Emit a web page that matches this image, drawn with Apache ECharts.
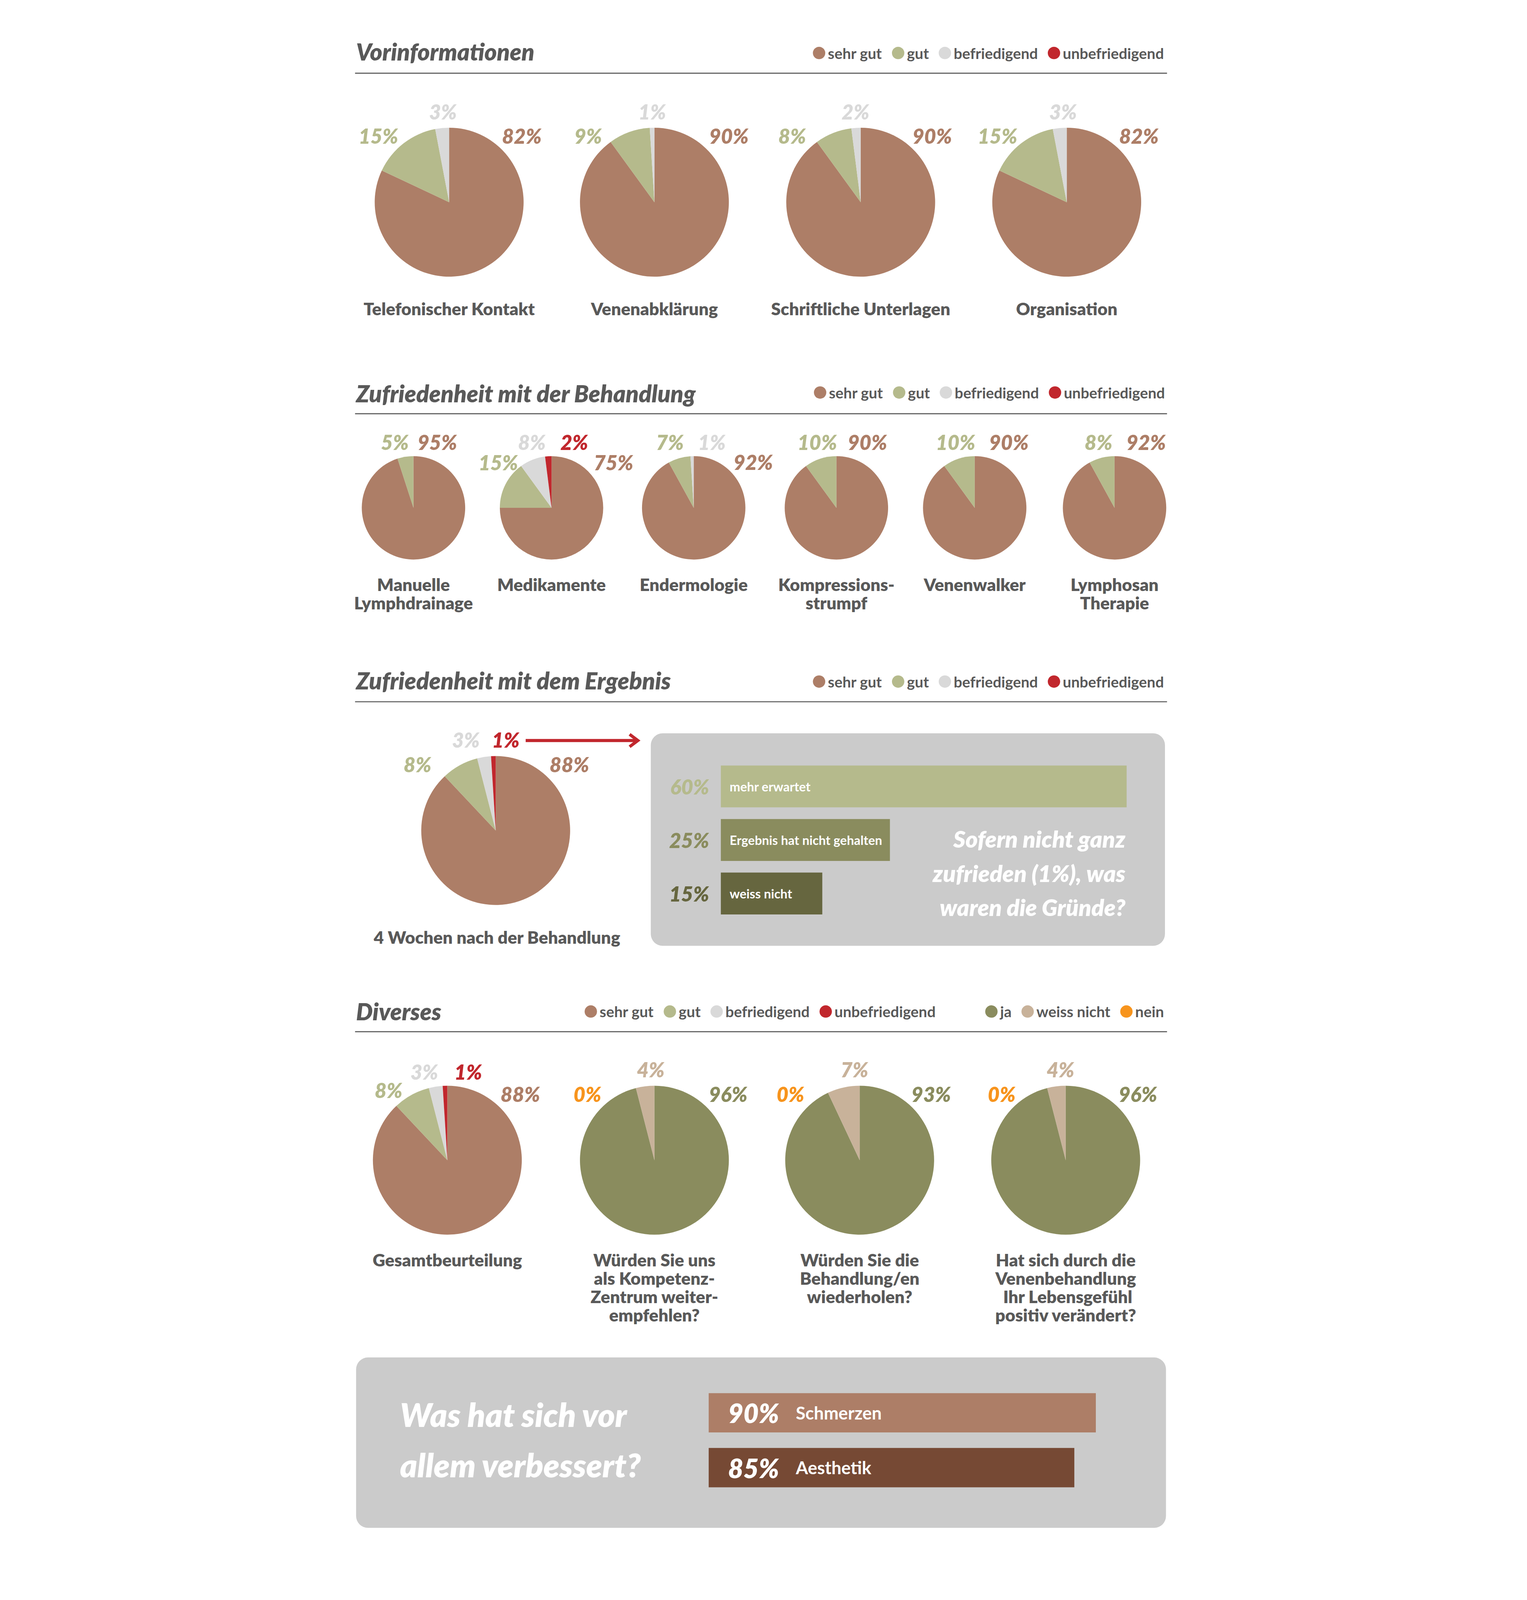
<!DOCTYPE html>
<html><head><meta charset="utf-8">
<script src="https://cdn.jsdelivr.net/npm/echarts/dist/echarts.min.js"></script>
<style>html,body{margin:0;padding:0;background:#fff;overflow:hidden}#c{width:3910px;height:6188px;position:absolute;left:0;top:0}</style>
</head><body><div id="c"></div><script>
// ---------- DATA ----------
const sectionTitles = ['Vorinformationen', 'Zufriedenheit mit der Behandlung', 'Zufriedenheit mit dem Ergebnis', 'Diverses'];
const ratingLabels = ['sehr gut', 'gut', 'befriedigend', 'unbefriedigend'];
const answerLabels = ['ja', 'weiss nicht', 'nein'];

const vorinfoCategories = [['Telefonischer Kontakt'], ['Venenabklärung'], ['Schriftliche Unterlagen'], ['Organisation']];
const vorinfoValues = [[82, 15, 3, 0], [90, 9, 1, 0], [90, 8, 2, 0], [82, 15, 3, 0]];

const behandlungCategories = [['Manuelle', 'Lymphdrainage'], ['Medikamente'], ['Endermologie'], ['Kompressions-', 'strumpf'], ['Venenwalker'], ['Lymphosan', 'Therapie']];
const behandlungValues = [[95, 5, 0, 0], [75, 15, 8, 2], [92, 7, 1, 0], [90, 10, 0, 0], [90, 10, 0, 0], [92, 8, 0, 0]];

const ergebnisCategory = ['4 Wochen nach der Behandlung'];
const ergebnisValues = [88, 8, 3, 1];

const gruendeLabels = ['mehr erwartet', 'Ergebnis hat nicht gehalten', 'weiss nicht'];
const gruendeValues = [60, 25, 15];
const gruendeQuestion = ['Sofern nicht ganz', 'zufrieden (1%), was', 'waren die Gründe?'];

const gesamtCategory = ['Gesamtbeurteilung'];
const gesamtValues = [88, 8, 3, 1];
const fragenCategories = [
  ['Würden Sie uns', 'als Kompetenz-', 'Zentrum weiter-', 'empfehlen?'],
  ['Würden Sie die', 'Behandlung/en', 'wiederholen?'],
  ['Hat sich durch die', 'Venenbehandlung', ' Ihr Lebensgefühl', 'positiv verändert?']
];
const fragenValues = [[96, 4, 0], [93, 7, 0], [96, 4, 0]];

const verbessertLabels = ['Schmerzen', 'Aesthetik'];
const verbessertValues = [90, 85];
const verbessertQuestion = ['Was hat sich vor', 'allem verbessert?'];

// ---------- FIT THE 3910x6188 DESIGN INTO THE ACTUAL WINDOW ----------
const W = 3910, H = 6188;
const fit = Math.min(window.innerWidth / W, window.innerHeight / H, 1);
const host = document.getElementById('c');
host.style.transformOrigin = '0 0';
host.style.transform = 'translate(' + ((window.innerWidth - W * fit) / 2) + 'px,0) scale(' + fit + ')';

// ---------- STYLE / LAYOUT ----------
const FONT = 'Lato';
const GRAY = '#595959';
const ratingColors = ['#AD7E67', '#B5BA8C', '#D9D9D9', '#C1272D'];
const answerColors = ['#8A8C5E', '#C8B29A', '#F7941D'];
const gruendeColors = ['#B5BA8C', '#8A8C5E', '#66663F'];
const verbessertColors = ['#AD7E67', '#764934'];
const BOX = '#CBCBCB';
const R_BIG = 288, R_SMALL = 200;

const s1X = [739, 1533, 2331, 3128], s1Y = 782, s1CapY = 1193;
const s1Off = [
  [[0.976, -0.89], [-0.95, -0.89], [-0.083, -1.22], null],
  [[1.0, -0.89], [-0.89, -0.89], [-0.03, -1.22], null],
  [[0.96, -0.89], [-0.92, -0.89], [-0.07, -1.22], null],
  [[0.97, -0.89], [-0.93, -0.89], [-0.05, -1.22], null]
];
const s2X = [601, 1135, 1685, 2237, 2772, 3313], s2Y = 1964, s2CapY = 2260;
const s2Off = [
  [[0.46, -1.27], [-0.36, -1.27], null, null],
  [[1.2, -0.88], [-1.03, -0.88], [-0.38, -1.27], [0.44, -1.27]],
  [[1.15, -0.89], [-0.46, -1.27], [0.35, -1.27], null],
  [[0.6, -1.27], [-0.37, -1.27], null, null],
  [[0.66, -1.27], [-0.37, -1.27], null, null],
  [[0.61, -1.27], [-0.31, -1.27], null, null]
];
const s3C = [919, 3212], s3CapY = 3624;
const s3Off = [[0.99, -0.89], [-1.05, -0.89], [-0.40, -1.22], [0.135, -1.22]];
const s4X = [732, 1533, 2327, 3124], s4Y = 4487, s4CapY = 4871;
const s4GOff = [[0.98, -0.89], [-0.79, -0.94], [-0.31, -1.19], [0.28, -1.19]];
const s4Off = [
  [[0.99, -0.89], [-0.05, -1.22], [-0.90, -0.89]],
  [[0.96, -0.89], [-0.07, -1.22], [-0.93, -0.89]],
  [[0.97, -0.89], [-0.07, -1.22], [-0.86, -0.89]]
];
const titleY = [200, 1521, 2631, 3911];
const ruleY = [283, 1600, 2714, 3990];

function pieSeries(center, radius, names, values, colors, offsets) {
  return {
    type: 'pie', center: center, radius: radius, startAngle: 90, clockwise: true,
    silent: true, avoidLabelOverlap: false, animation: false,
    itemStyle: { borderWidth: 0 },
    emphasis: { disabled: true, scale: false },
    label: { show: true, position: 'outside', formatter: '{c}%', fontFamily: FONT, fontSize: 79, fontWeight: 800, fontStyle: 'italic' },
    labelLine: { show: false },
    labelLayout: function (p) {
      const o = offsets[p.dataIndex];
      if (!o) return {};
      return { x: center[0] + o[0] * radius, y: center[1] + o[1] * radius, align: 'center', verticalAlign: 'middle' };
    },
    data: names.map((n, i) => ({
      name: n, value: values[i],
      itemStyle: { color: colors[i] },
      label: { show: offsets[i] != null, color: colors[i] }
    }))
  };
}

const series = [];
vorinfoValues.forEach((v, i) => series.push(pieSeries([s1X[i], s1Y], R_BIG, ratingLabels, v, ratingColors, s1Off[i])));
behandlungValues.forEach((v, i) => series.push(pieSeries([s2X[i], s2Y], R_SMALL, ratingLabels, v, ratingColors, s2Off[i])));
series.push(pieSeries(s3C, R_BIG, ratingLabels, ergebnisValues, ratingColors, s3Off));
series.push(pieSeries([s4X[0], s4Y], R_BIG, ratingLabels, gesamtValues, ratingColors, s4GOff));
fragenValues.forEach((v, i) => series.push(pieSeries([s4X[i + 1], s4Y], R_BIG, answerLabels, v, answerColors, s4Off[i])));

series.push({
  type: 'bar', xAxisIndex: 0, yAxisIndex: 0, barWidth: 162, silent: true, animation: false, z: 5,
  data: gruendeValues.map((v, i) => ({ value: v, itemStyle: { color: gruendeColors[i] } })),
  label: { show: true, position: 'insideLeft', distance: 34, formatter: '{b}', color: '#fff', fontFamily: FONT, fontWeight: 'bold', fontSize: 49 }
});
series.push({
  type: 'bar', xAxisIndex: 1, yAxisIndex: 1, barWidth: 152, silent: true, animation: false, z: 5,
  data: verbessertValues.map((v, i) => ({ value: v, itemStyle: { color: verbessertColors[i] } })),
  label: {
    show: true, position: 'insideLeft', distance: 75,
    formatter: p => '{p|' + p.value + '%}{n|' + p.name + '}',
    rich: {
      p: { color: '#fff', fontFamily: FONT, fontWeight: 800, fontStyle: 'italic', fontSize: 102, width: 262 },
      n: { color: '#fff', fontFamily: FONT, fontWeight: 'bold', fontSize: 68 }
    }
  }
});

const gruendeRich = {};
gruendeColors.forEach((c, i) => gruendeRich['p' + i] = { color: c, fontFamily: FONT, fontWeight: 800, fontStyle: 'italic', fontSize: 80 });

const g = [];
function txt(text, x, y, font, fill, align) {
  g.push({ type: 'text', x: x, y: y, z: 100, silent: true,
    style: { text: text, font: font, fill: fill, align: align, textAlign: align, verticalAlign: 'middle', textVerticalAlign: 'middle' } });
}
const titleFont = 'italic 800 91px ' + FONT;
const capFont = '800 67px ' + FONT;
sectionTitles.forEach((t, i) => txt(t, 379, titleY[i], titleFont, GRAY, 'left'));
ruleY.forEach(y => g.push({ type: 'line', z: 1, silent: true, shape: { x1: 375, y1: y, x2: 3516, y2: y }, style: { stroke: GRAY, lineWidth: 4 } }));
vorinfoCategories.forEach((lines, i) => lines.forEach((l, j) => txt(l, s1X[i], s1CapY + j * 71, capFont, GRAY, 'center')));
behandlungCategories.forEach((lines, i) => lines.forEach((l, j) => txt(l, s2X[i], s2CapY + j * 71, capFont, GRAY, 'center')));
txt(ergebnisCategory[0], 924, s3CapY, capFont, GRAY, 'center');
txt(gesamtCategory[0], s4X[0], s4CapY, capFont, GRAY, 'center');
fragenCategories.forEach((lines, i) => lines.forEach((l, j) => txt(l, s4X[i + 1], s4CapY + j * 71, capFont, GRAY, 'center')));
g.push({ type: 'rect', z: 0, silent: true, shape: { x: 1519, y: 2836, width: 1989, height: 822, r: 46 }, style: { fill: BOX } });
g.push({ type: 'rect', z: 0, silent: true, shape: { x: 379, y: 5250, width: 3133, height: 659, r: 46 }, style: { fill: BOX } });
gruendeQuestion.forEach((l, j) => txt(l, 3355, 3244 + j * 132, 'italic 800 90px ' + FONT, '#fff', 'right'));
verbessertQuestion.forEach((l, j) => txt(l, 549, 5471 + j * 194, 'italic 800 126px ' + FONT, '#fff', 'left'));
g.push({ type: 'line', z: 1, silent: true, shape: { x1: 1035, y1: 2864, x2: 1468, y2: 2864 }, style: { stroke: ratingColors[3], lineWidth: 12 } });
g.push({ type: 'polyline', z: 1, silent: true, shape: { points: [[1437, 2840], [1469, 2864], [1437, 2888]] }, style: { stroke: ratingColors[3], lineWidth: 12, fill: null } });

function legend(names, right, cy) {
  return {
    data: names.map(n => ({ name: n, icon: 'circle' })),
    right: right, top: cy - 24, itemWidth: 58, itemHeight: 48, itemGap: 38,
    selectedMode: false, padding: 0,
    textStyle: { fontFamily: FONT, fontWeight: 'bold', fontSize: 58, color: GRAY }
  };
}

const chart = echarts.init(host, null, { renderer: 'svg', width: W, height: H });
chart.setOption({
  backgroundColor: '#fff',
  animation: false,
  legend: [
    legend(ratingLabels, 406, 200),
    legend(ratingLabels, 402, 1513),
    legend(ratingLabels, 406, 2631),
    legend(ratingLabels, 1289, 3907),
    legend(answerLabels, 406, 3907)
  ],
  grid: [
    { left: 1790, top: 2938, width: 2093, height: 621, outerBoundsMode: 'none', containLabel: false },
    { left: 1743, top: 5358, width: 1664, height: 424, outerBoundsMode: 'none', containLabel: false }
  ],
  xAxis: [
    { gridIndex: 0, type: 'value', min: 0, max: 80, show: false },
    { gridIndex: 1, type: 'value', min: 0, max: 100, show: false }
  ],
  yAxis: [
    { gridIndex: 0, type: 'category', data: gruendeLabels, inverse: true,
      axisLine: { show: false }, axisTick: { show: false }, splitLine: { show: false },
      axisLabel: { margin: 45, formatter: (v, i) => '{p' + i + '|' + gruendeValues[i] + '%}', rich: gruendeRich } },
    { gridIndex: 1, type: 'category', data: verbessertLabels, inverse: true, show: false }
  ],
  graphic: { elements: g },
  series: series
});
</script></body></html>
